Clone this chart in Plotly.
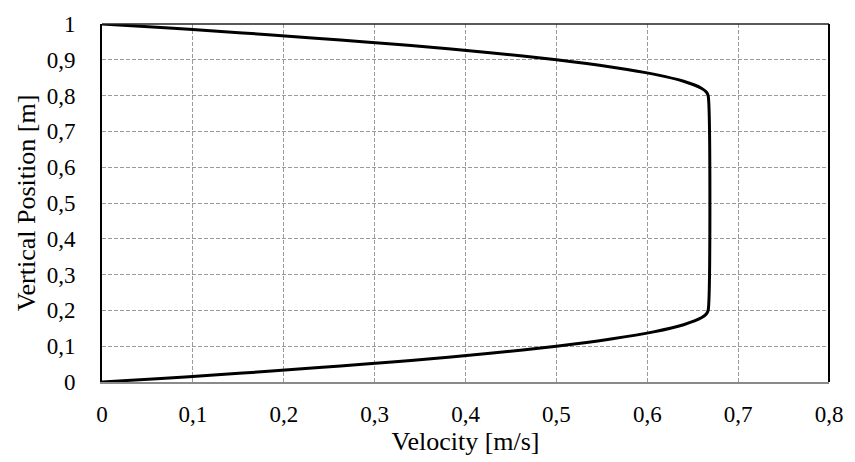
import plotly.graph_objects as go

# Velocity profile across the channel height
position_m = [0.00, 0.01, 0.02, 0.03, 0.04, 0.05, 0.06, 0.08, 0.10, 0.12, 0.14,
              0.16, 0.18, 0.19, 0.20, 0.80, 0.81, 0.82, 0.84, 0.86, 0.88, 0.90,
              0.92, 0.94, 0.95, 0.96, 0.97, 0.98, 0.99, 1.00]
velocity_ms = [0.000, 0.065, 0.127, 0.183, 0.235, 0.290, 0.340, 0.427, 0.500, 0.560, 0.607,
               0.640, 0.660, 0.665, 0.667, 0.667, 0.665, 0.660, 0.640, 0.607, 0.560, 0.500,
               0.427, 0.340, 0.290, 0.235, 0.183, 0.127, 0.065, 0.000]

x_ticks = [0, 0.1, 0.2, 0.3, 0.4, 0.5, 0.6, 0.7, 0.8]
y_ticks = [0, 0.1, 0.2, 0.3, 0.4, 0.5, 0.6, 0.7, 0.8, 0.9, 1]

font_family = "Liberation Serif"
tick_font = dict(family=font_family, size=23, color="black")
title_font = dict(family=font_family, size=26, color="black")

fig = go.Figure()
fig.add_trace(go.Scatter(
    x=velocity_ms, y=position_m, mode="lines",
    line=dict(color="black", width=3, shape="spline", smoothing=0.6),
    showlegend=False,
))

grid_style = dict(showgrid=True, gridcolor="#9a9a9a", gridwidth=1, griddash="4px,2px",
                  zeroline=False, ticks="", tickfont=tick_font)

fig.update_xaxes(range=[0, 0.8], tickvals=x_ticks, ticklabelstandoff=10,
                 showline=True, linecolor="#8a8a8a", linewidth=2,
                 title=dict(text="Velocity [m/s]", font=title_font, standoff=5),
                 **grid_style)
fig.update_yaxes(range=[0, 1], tickvals=y_ticks, ticklabelstandoff=20,
                 showline=True, linecolor="black", linewidth=2,
                 title=dict(text="Vertical Position [m]", font=title_font, standoff=4),
                 **grid_style)

# top and right frame lines
fig.add_shape(type="line", xref="paper", yref="paper", x0=0, x1=1, y0=1, y1=1,
              line=dict(color="#222222", width=1.5))
fig.add_shape(type="line", xref="paper", yref="paper", x0=1, x1=1, y0=0, y1=1,
              line=dict(color="black", width=2))

fig.update_layout(
    width=855, height=462,
    margin=dict(l=102, r=21, t=19, b=79),
    paper_bgcolor="white", plot_bgcolor="white",
    separators=", ",
    font=tick_font,
)

fig.write_html("out.html")
